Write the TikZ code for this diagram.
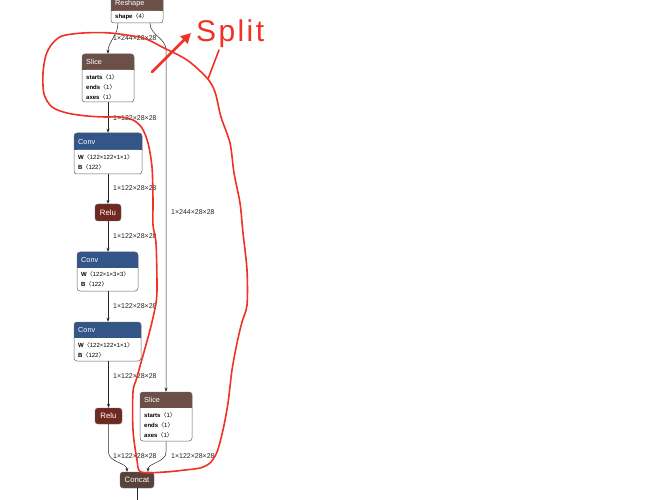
\documentclass[tikz,border=0pt]{standalone}
\usepackage{fontspec}
\setmainfont{Liberation Sans}
\newfontfamily\cjk{Noto Sans CJK SC}
\usetikzlibrary{arrows.meta,fit}
\definecolor{shapecol}{RGB}{108,79,71}
\definecolor{layercol}{RGB}{51,85,136}
\definecolor{actcol}{RGB}{112,41,33}
\definecolor{tensorcol}{RGB}{89,66,59}
\definecolor{framecol}{RGB}{100,100,100}
\definecolor{annotred}{RGB}{240,50,38}
\newcommand\angb[1]{{\cjk 〈}#1{\cjk 〉}}
\tikzset{
  boxframe/.style={draw=framecol,line width=0.5pt,rounded corners=3pt,inner sep=0pt},
  titletext/.style={anchor=west,inner sep=0pt,text=white,font=\fontsize{7.3}{8}\selectfont},
  bodytext/.style={anchor=west,inner sep=0pt,font=\fontsize{6}{7}\selectfont},
  opbox/.style={draw=framecol,line width=0.4pt,rounded corners=3pt,inner sep=0pt,text=white,font=\fontsize{7.8}{8}\selectfont},
  edge/.style={draw=black!85,line width=0.5pt,-{Stealth[length=4pt,width=3pt]}},
  plainedge/.style={draw=black!85,line width=0.5pt},
  elabel/.style={anchor=west,inner sep=0pt,text=black!85,font=\fontsize{7}{8}\selectfont},
  annot/.style={draw=annotred,line width=1.6pt,line join=round,line cap=round}
}
% #1 name, #2 x1, #3 ytop, #4 x2, #5 ymid, #6 ybot, #7 colour, #8 title
\newcommand\tbox[8]{%
  \fill[#7,rounded corners=3pt] (#2,#3) rectangle (#4,#5+4);
  \fill[white,rounded corners=3pt] (#2,#5) rectangle (#4,#6);
  \fill[white] (#2,#5) rectangle (#4,#5+4);
  \node[boxframe,fit={(#2,#3) (#4,#6)}] (#1) {};
  \node[titletext] (#1t) at (#2+4,{(#3+#5)/2}) {#8};
}
\begin{document}
\begin{tikzpicture}[x=1pt,y=-1pt]
\useasboundingbox (0,0) rectangle (654,500);
\fill[white] (0,0) rectangle (654,500);
\clip (0,0) rectangle (654,500);

% nodes
\tbox{reshape}{111}{-4}{163}{11}{23}{shapecol}{Reshape}
\node[bodytext] (reshapeb) at (115,17) {\textbf{shape}\angb{4}};

\tbox{slicea}{82}{54}{134}{70}{102}{shapecol}{Slice}
\node[bodytext] (sliceab1) at (86,77) {\textbf{starts}\angb{1}};
\node[bodytext] (sliceab2) at (86,87) {\textbf{ends}\angb{1}};
\node[bodytext] (sliceab3) at (86,97) {\textbf{axes}\angb{1}};

\tbox{conva}{74}{133}{142}{150}{174}{layercol}{Conv}
\node[bodytext] (convab1) at (78,157) {\textbf{W}\angb{122×122×1×1}};
\node[bodytext] (convab2) at (78,167) {\textbf{B}\angb{122}};

\node[opbox,fill=actcol,minimum width=26pt,minimum height=17pt] (relua) at (108,212.5) {Relu};

\tbox{convb}{77}{252}{138}{268}{291}{layercol}{Conv}
\node[bodytext] (convbb1) at (81,274) {\textbf{W}\angb{122×1×3×3}};
\node[bodytext] (convbb2) at (81,284) {\textbf{B}\angb{122}};

\tbox{convc}{74}{322}{141}{338}{361}{layercol}{Conv}
\node[bodytext] (convcb1) at (78,345) {\textbf{W}\angb{122×122×1×1}};
\node[bodytext] (convcb2) at (78,355) {\textbf{B}\angb{122}};

\node[opbox,fill=actcol,minimum width=27pt,minimum height=16pt] (relub) at (108.5,416) {Relu};

\tbox{sliceb}{140}{392}{192}{408}{441}{shapecol}{Slice}
\node[bodytext] (slicebb1) at (144,415) {\textbf{starts}\angb{1}};
\node[bodytext] (slicebb2) at (144,425) {\textbf{ends}\angb{1}};
\node[bodytext] (slicebb3) at (144,435) {\textbf{axes}\angb{1}};

\node[opbox,fill=tensorcol,minimum width=34pt,minimum height=16pt] (concat) at (137,480) {Concat};
\coordinate (out) at (137,505);

% connectors
\draw[edge] ([xshift=-19pt]reshape.south) .. controls +(0,12) and +(0,-12) .. (slicea.north);
\draw[edge] ([xshift=13pt]reshape.south) .. controls +(0,12) and +(0,-12) .. (sliceb.north |- 0,50) -- (sliceb.north);
\draw[edge] (slicea.south) -- (conva.north -| slicea.south);
\draw[edge] (conva.south) -- (relua.north);
\draw[edge] (relua.north |- relua.south) -- (convb.north -| relua.south);
\draw[edge] (convb.south -| relua.south) -- (convc.north -| relua.south);
\draw[edge] (convc.south -| relub.north) -- (relub.north);
\draw[edge] (relub.south) -- ++(0,28) .. controls +(0,10) and +(0,-9) .. ([xshift=-10pt]concat.north);
\draw[edge] (sliceb.south) -- ++(0,11) .. controls +(0,10) and +(0,-9) .. ([xshift=11pt]concat.north);
\draw[plainedge] (concat.south) -- (out);

% edge labels
\node[elabel] (la) at (113,38) {1×244×28×28};
\node[elabel] (lb) at (113,118) {1×122×28×28};
\node[elabel] (lc) at (113,188) {1×122×28×28};
\node[elabel] (ld) at (113,236) {1×122×28×28};
\node[elabel] (le) at (113,306) {1×122×28×28};
\node[elabel] (lf) at (113,376) {1×122×28×28};
\node[elabel] (lg) at (113,456) {1×122×28×28};
\node[elabel] (lh) at (171,456) {1×122×28×28};
\node[elabel] (li) at (171,212) {1×244×28×28};

% red annotation
\draw[annot] plot[smooth cycle,tension=0.5] coordinates {
 (43,73) (46,55) (52,44) (62,36) (83,33) (110,33) (143,38) (162,47) (187,60) (207,78)
 (215,92) (221,117) (230,143) (234,173) (240,203) (243,233) (247,270) (247,305)
 (242,322) (237,343) (232,370) (228,403) (223,430) (217,452) (210,463) (200,468)
 (185,470) (165,472) (141,472) (137,460) (133,430) (133,392) (137,377) (150,330)
 (156,303) (157,285) (156,243) (153,225) (153,200) (152,167) (148,143) (142,128)
 (133,120) (120,117) (105,117) (87,116) (67,113) (52,107) (44,94)};
\draw[annot] (208,79) -- (219,50);
\draw[annotred,line width=2.6pt,line cap=round,-{Triangle[length=10pt,width=10pt]}] (152,72) -- (191,33);
\node[anchor=base west,inner sep=0pt,text=annotred,font=\fontsize{30}{30}\selectfont\addfontfeature{LetterSpace=8}] (split) at (196,42) {Split};
\end{tikzpicture}
\end{document}
